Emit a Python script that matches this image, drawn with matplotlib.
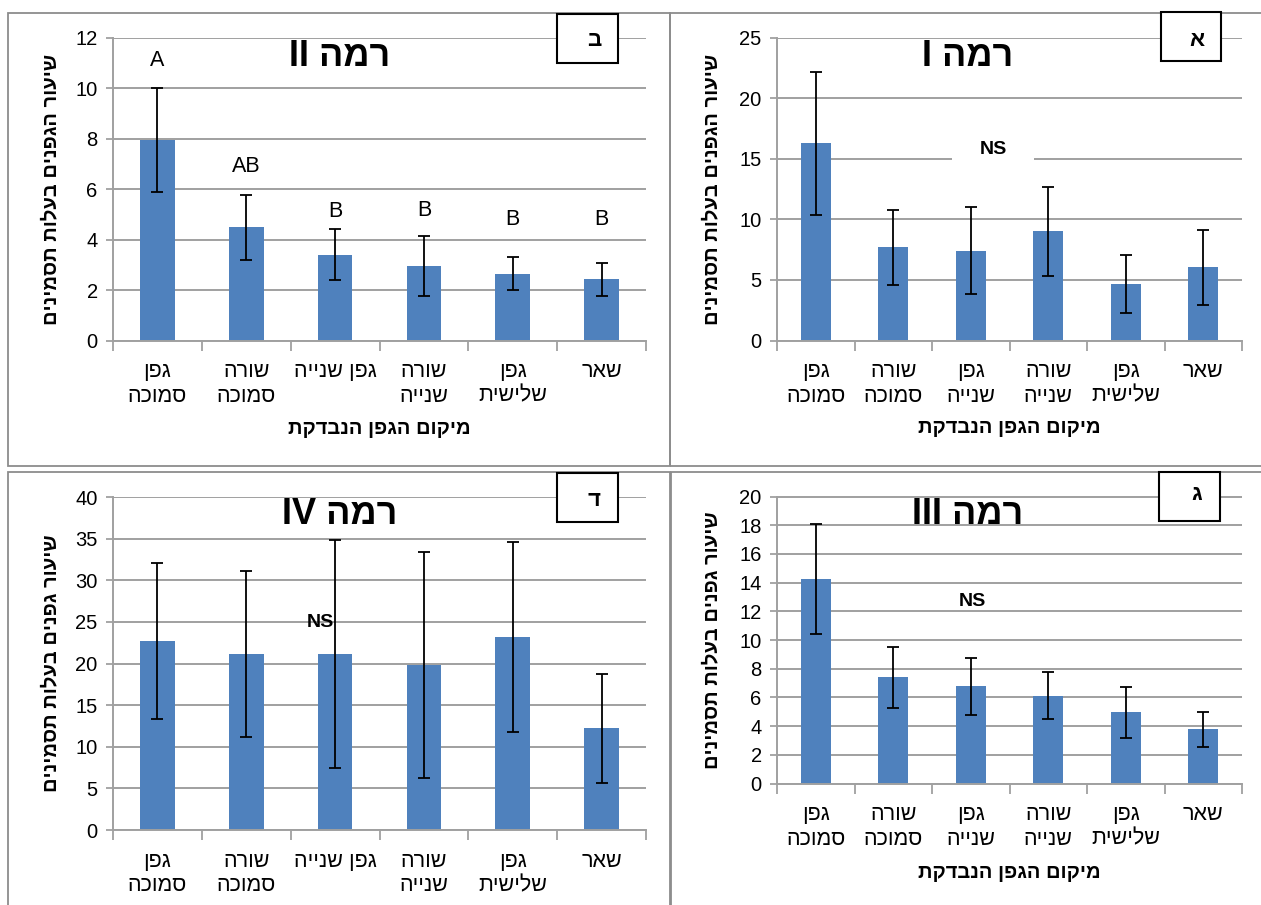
import matplotlib
matplotlib.use("Agg")
import matplotlib.pyplot as plt
from matplotlib.patches import Rectangle

plt.rcParams['font.family'] = ['Liberation Sans', 'DejaVu Sans']

# -----------------------------
# Data
# -----------------------------
cats_wide = ["גפן\nסמוכה", "שורה\nסמוכה", "גפן שנייה", "שורה\nשנייה", "גפן\nשלישית", "שאר"]
cats_narrow = ["גפן\nסמוכה", "שורה\nסמוכה", "גפן\nשנייה", "שורה\nשנייה", "גפן\nשלישית", "שאר"]

# רמה I (panel א)
mean_1 = [16.3, 7.7, 7.4, 9.0, 4.7, 6.05]
err_1 = [5.9, 3.1, 3.6, 3.7, 2.4, 3.1]

# רמה II (panel ב)
mean_2 = [7.95, 4.48, 3.4, 2.95, 2.64, 2.42]
err_2 = [2.07, 1.3, 1.0, 1.18, 0.65, 0.66]
letters_2 = ["A", "AB", "B", "B", "B", "B"]
letters_y_2 = [11.1, 6.9, 5.13, 5.16, 4.8, 4.8]

# רמה III (panel ג)
mean_3 = [14.25, 7.4, 6.78, 6.13, 4.95, 3.77]
err_3 = [3.83, 2.14, 2.0, 1.65, 1.8, 1.2]

# רמה IV (panel ד)
mean_4 = [22.7, 21.15, 21.1, 19.85, 23.15, 12.2]
err_4 = [9.4, 10.0, 13.7, 13.55, 11.4, 6.5]

ylabel_a = "שיעור הגפנים בעלות תסמינים"
ylabel_b = "שיעור גפנים בעלות תסמינים"
xlabel = "מיקום הגפן הנבדקת"

# -----------------------------
# Style
# -----------------------------
W, H = 1261, 905
BAR = '#4F81BD'
GRID = '#A0A0A0'
EDGE = '#8C8C8C'


def heb(s):
    # matplotlib has no bidi support: reverse each Hebrew line
    return "\n".join(line[::-1] for line in s.split("\n"))


def fx(x):
    return x / W


def fy(y):
    return 1 - y / H


fig = plt.figure(figsize=(W / 100, H / 100), dpi=100)

# panel frames
for (x0, y0, x1, y1) in [(8, 13, 670, 466), (670, 13, 1275, 466),
                         (8, 472, 670, 920), (671, 472, 1275, 920)]:
    fig.add_artist(Rectangle((fx(x0), fy(y1)), fx(x1 - x0), (y1 - y0) / H,
                             transform=fig.transFigure, fill=False,
                             edgecolor=EDGE, linewidth=1.3))


def panel(box, means, errs, ymax, ystep, cats, roman, letter, ylab,
          title_xy, letter_box, ylab_x, xlab_y=None):
    x0, ytop, x1, ybot = box
    ax = fig.add_axes([fx(x0), fy(ybot), fx(x1 - x0), (ybot - ytop) / H])
    pos = list(range(len(means)))
    ax.bar(pos, means, width=0.39, color=BAR, zorder=2)
    ax.errorbar(pos, means, yerr=errs, fmt='none', ecolor='black',
                elinewidth=1.3, capsize=4, capthick=1.3, zorder=3)
    ax.set_xlim(-0.5, len(means) - 0.5)
    ax.set_ylim(0, ymax)
    ax.set_yticks(range(0, ymax + 1, ystep))
    ax.yaxis.grid(True, color=GRID, linewidth=1.4, zorder=0)
    ax.set_axisbelow(True)
    for s in ['top', 'right']:
        ax.spines[s].set_visible(False)
    for s in ['left', 'bottom']:
        ax.spines[s].set_color(GRID)
        ax.spines[s].set_linewidth(1.4)
    ax.tick_params(axis='y', colors=GRID, labelcolor='black', length=5,
                   width=1.3, labelsize=14.5, pad=6)
    ax.set_xticks(pos)
    ax.set_xticklabels([heb(c) for c in cats], fontsize=15.5, linespacing=1.2,
                       va='top')
    ax.set_xticks([p - 0.5 for p in pos] + [len(pos) - 0.5], minor=True)
    ax.tick_params(axis='x', which='major', length=0, pad=15)
    ax.tick_params(axis='x', which='minor', length=7, width=1.3, colors=GRID)

    # title
    fig.text(fx(title_xy[0]), fy(title_xy[1]), roman + " " + heb("רמה"),
             fontsize=26, fontweight='bold', ha='center', va='center')
    # letter box
    bx0, by0, bx1, by1, lx, ly = letter_box
    fig.add_artist(Rectangle((fx(bx0), fy(by1)), fx(bx1 - bx0), (by1 - by0) / H,
                             transform=fig.transFigure, facecolor='white',
                             edgecolor='black', linewidth=1.5, zorder=5))
    fig.text(fx(lx), fy(ly), heb(letter), fontsize=16, fontweight='bold',
             ha='center', va='center', zorder=6)
    # axis labels
    fig.text(fx(ylab_x), fy((ytop + ybot) / 2), heb(ylab), rotation=90,
             fontsize=14.5, fontweight='bold', ha='center', va='center')
    if xlab_y is not None:
        fig.text(fx((x0 + x1) / 2), fy(xlab_y), heb(xlabel),
                 fontsize=14.5, fontweight='bold', ha='center', va='center')
    return ax


# panel ב - רמה II
ax2 = panel((113, 37.7, 646, 340.5), mean_2, err_2, 12, 2, cats_wide, "II", "ב",
            ylabel_a, (340, 56), (557, 14, 618, 63, 594, 41), 51, 428)
for i, (lab, yy) in enumerate(zip(letters_2, letters_y_2)):
    ax2.text(i, yy, lab, fontsize=15.5, ha='center', va='center')

# panel א - רמה I
ax1 = panel((777, 37.7, 1242, 340.5), mean_1, err_1, 25, 5, cats_narrow, "I", "א",
            ylabel_a, (968, 56), (1161, 12, 1221, 61, 1197, 40), 712, 427)
ax1.text(2.29, 15.8, "NS", fontsize=14, fontweight='bold', ha='center',
         va='center', zorder=4,
         bbox=dict(boxstyle='square,pad=1.4', facecolor='white', edgecolor='none'))

# panel ד - רמה IV
ax4 = panel((113, 497, 646, 830), mean_4, err_4, 40, 5, cats_wide, "IV", "ד",
            ylabel_b, (340, 515), (557, 473, 618, 522, 594, 500), 51)
ax4.text(1.84, 24.9, "NS", fontsize=14, fontweight='bold', ha='center',
         va='center', zorder=4)

# panel ג - רמה III
ax3 = panel((777, 496.5, 1242, 783.5), mean_3, err_3, 20, 2, cats_narrow, "III", "ג",
            ylabel_b, (968, 515), (1159, 472, 1220, 521, 1197, 494), 712, 872)
ax3.text(2.02, 12.66, "NS", fontsize=14, fontweight='bold', ha='center',
         va='center', zorder=4)

fig.savefig("out.png", dpi=100)
